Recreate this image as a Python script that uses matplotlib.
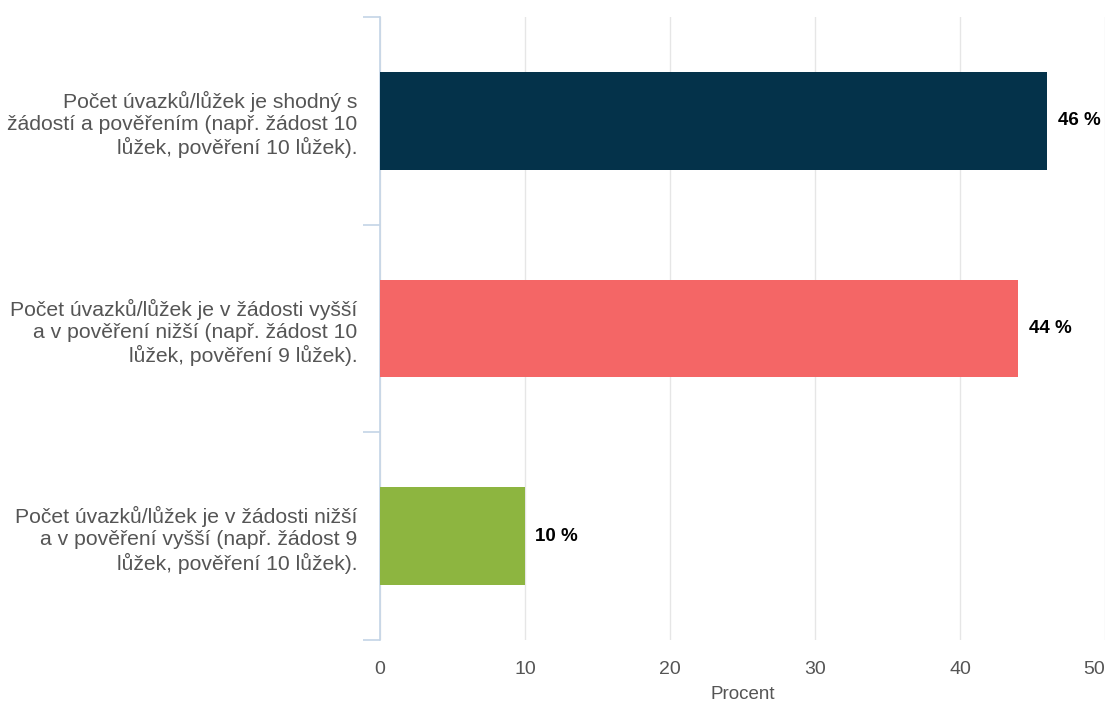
import matplotlib.pyplot as plt
import numpy as np

plt.rcParams['font.family'] = ['Liberation Sans', 'DejaVu Sans']

categories = [
    "Počet úvazků/lůžek je shodný s\nžádostí a pověřením (např. žádost 10\nlůžek, pověření 10 lůžek).",
    "Počet úvazků/lůžek je v žádosti vyšší\na v pověření nižší (např. žádost 10\nlůžek, pověření 9 lůžek).",
    "Počet úvazků/lůžek je v žádosti nižší\na v pověření vyšší (např. žádost 9\nlůžek, pověření 10 lůžek).",
]
values = [46, 44, 10]
colors = ["#04324a", "#f46666", "#8db540"]
xticks = [0, 10, 20, 30, 40, 50]

fig = plt.figure(figsize=(11.11, 7.05), dpi=100)
ax = fig.add_axes([0.342, 0.092, 0.653, 0.884])

y = np.arange(len(categories))
ax.barh(y, values, height=0.47, color=colors, zorder=3)

for yi, v in zip(y, values):
    ax.text(v + 0.7, yi, f"{v} %", va='center', ha='left',
            fontsize=13.5, fontweight='bold', color='black')

ax.set_xlim(0, 50)
ax.set_ylim(len(categories) - 0.5, -0.5)
ax.set_xticks(xticks)
ax.tick_params(axis='x', length=0, labelsize=14, labelcolor='#555555', pad=15)
ax.grid(axis='x', color='#e6e6e6', linewidth=1, zorder=0)
# keep the last tick label inside the figure
lbls = ax.get_xticklabels()
lbls[-1].set_horizontalalignment('right')
lbls[-1].set_x(50)

# category labels centred, ticks at band boundaries
ax.set_yticks(y)
ax.set_yticklabels(categories, fontsize=15.2, color='#555555', linespacing=1.2)
ax.tick_params(axis='y', which='major', length=0, pad=16)
ax.set_yticks(np.arange(-0.5, len(categories), 1), minor=True)
ax.tick_params(axis='y', which='minor', length=12, color='#c4d4e6', width=1.2)

for s in ['top', 'right', 'bottom']:
    ax.spines[s].set_visible(False)
ax.spines['left'].set_color('#c4d4e6')
ax.spines['left'].set_linewidth(1.2)

ax.set_xlabel("Procent", fontsize=13.5, color='#555555', labelpad=6)

fig.savefig("out.png", dpi=100)
